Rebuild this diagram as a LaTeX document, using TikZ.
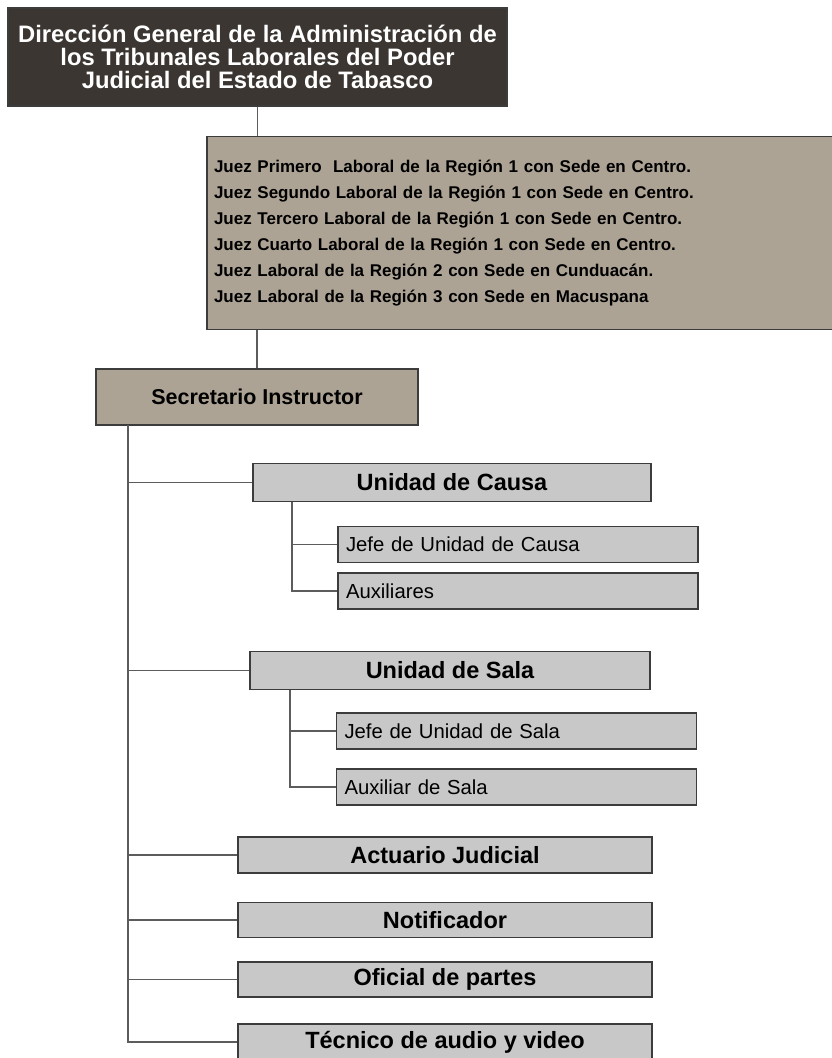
\documentclass[tikz,border=0pt]{standalone}
\usepackage{fontspec}
\setmainfont{Liberation Sans}
\usetikzlibrary{positioning}
\definecolor{dgfill}{HTML}{3B3631}
\definecolor{tanfill}{HTML}{ADA395}
\definecolor{unitfill}{HTML}{C8C8C8}
\definecolor{edge}{HTML}{3C3C3C}
\definecolor{wire}{HTML}{5C5C5C}

\begin{document}
\begin{tikzpicture}[x=1pt,y=-1pt,
 box/.style={draw=edge,line width=1.6pt,inner sep=0pt},
 head/.style={box,fill=dgfill,text=white,font=\bfseries\fontsize{23.8}{23}\selectfont,align=center,minimum width=499pt,minimum height=98pt},
 tan/.style={box,fill=tanfill},
 unit/.style={box,fill=unitfill,font=\bfseries\fontsize{23.5}{24}\selectfont,minimum height=38pt},
 sub/.style={box,fill=unitfill,font=\fontsize{20.3}{22}\selectfont,minimum height=36pt,minimum width=360pt,text width=344pt,inner xsep=8pt,align=left},
 wire/.style={draw=wire,line width=1.4pt}]
\useasboundingbox (0,0) rectangle (832,1058);
\node[head] (dg) at (257.5,57) {Dirección General de la Administración de\\los Tribunales Laborales del Poder\\Judicial del Estado de Tabasco};
\node[tan,minimum width=634pt,minimum height=193pt,text width=620pt,inner xsep=7pt,align=left,
 font=\bfseries\fontsize{17}{26}\selectfont] (jueces) at (524,233) {Juez Primero\ \ Laboral de la Región 1 con Sede en Centro.\\
Juez Segundo Laboral de la Región 1 con Sede en Centro.\\
Juez Tercero Laboral de la Región 1 con Sede en Centro.\\
Juez Cuarto Laboral de la Región 1 con Sede en Centro.\\
Juez Laboral de la Región 2 con Sede en Cunduacán.\\
Juez Laboral de la Región 3 con Sede en Macuspana};
\node[tan,minimum width=322pt,minimum height=56pt,font=\bfseries\fontsize{21.5}{24}\selectfont] (sec) at (257,397) {Secretario Instructor};
\node[unit,minimum width=398pt] (uc) at (452,482.5) {Unidad de Causa};
\node[sub] (jc) at (518,544.5) {Jefe de Unidad de Causa};
\node[sub] (aux) at (518,591) {Auxiliares};
\node[unit,minimum width=400pt] (us) at (450,670.5) {Unidad de Sala};
\node[sub] (js) at (516.5,731) {Jefe de Unidad de Sala};
\node[sub] (as) at (516.5,787) {Auxiliar de Sala};
\node[unit,minimum width=414pt,minimum height=36pt] (act) at (445,855) {Actuario Judicial};
\node[unit,minimum width=414pt,minimum height=35pt] (not) at (445,920) {Notificador};
\node[unit,minimum width=414pt,minimum height=35pt] (of) at (445,979.5) {Oficial de partes};
\node[unit,minimum width=414pt,minimum height=36pt] (tec) at (445,1042) {Técnico de audio y video};
\coordinate (tr) at (128,425);
\coordinate (cu) at (292,502);
\coordinate (sa) at (290,690);
\draw[wire] (dg.south) -- (dg.south |- jueces.north);
\draw[wire] (sec.north |- jueces.south) -- (sec.north);
\draw[wire] (tr) |- (tec.west);
\foreach \n in {uc,us,act,not,of}
  \draw[wire] (tr |- \n.west) -- (\n.west);
\draw[wire] (cu) |- (aux.west);
\draw[wire] (cu |- jc.west) -- (jc.west);
\draw[wire] (sa) |- (as.west);
\draw[wire] (sa |- js.west) -- (js.west);
\end{tikzpicture}
\end{document}
